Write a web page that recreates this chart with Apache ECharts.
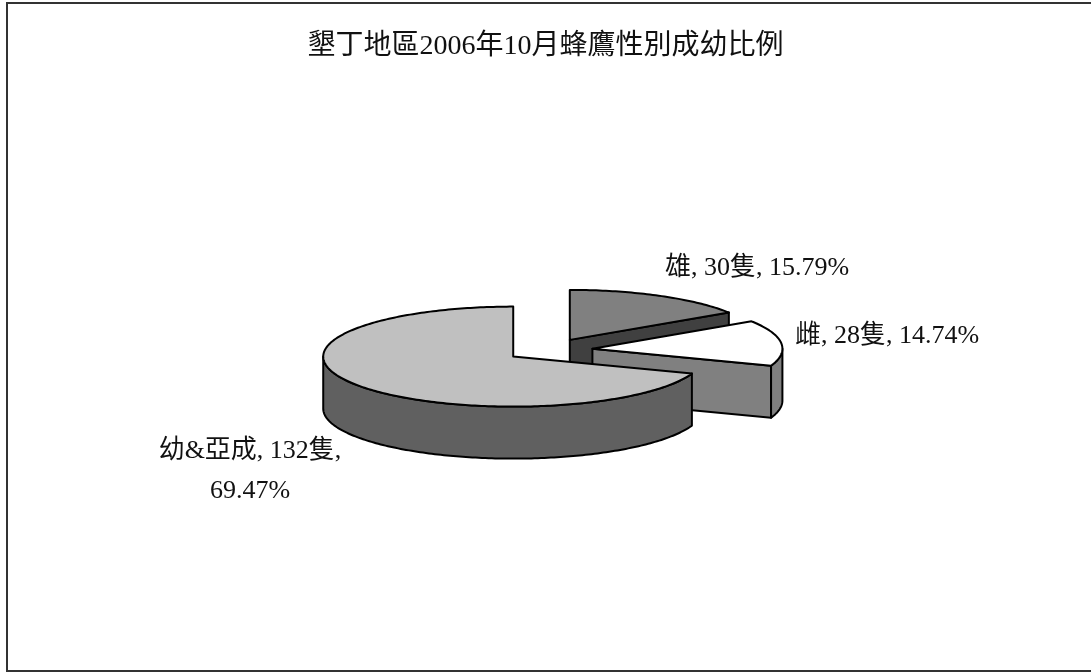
<!DOCTYPE html>
<html>
<head>
<meta charset="utf-8">
<title>墾丁地區2006年10月蜂鷹性別成幼比例</title>
<script src="https://cdn.jsdelivr.net/npm/echarts@6/dist/echarts.min.js"></script>
<style>
  html, body { margin: 0; padding: 0; background: #fff; }
  #chart { width: 1091px; height: 672px; }
</style>
</head>
<body>
<div id="chart"></div>
<script>
// Honey buzzard counts at Kenting, October 2006, by sex / age class
const titleText = '墾丁地區2006年10月蜂鷹性別成幼比例';
const categories = ['雄', '雌', '幼&亞成'];
const counts = [30, 28, 132];
const unitText = '隻';

// Colours for each slice: top face and side walls
const topColors = ['#808080', '#ffffff', '#c0c0c0'];
const sideColors = ['#404040', '#808080', '#606060'];

// Geometry of the tilted pie (pixels)
const CX = 549, CY = 350;     // centre of the top face before explosion
const RX = 190, RY = 50;      // ellipse radii of the top face
const DEPTH = 52;             // thickness of the pie
const EXPLODE = 0.23;         // slice offset as a fraction of the radius

// Label anchors (centre of the text block) for each slice
const labelAnchors = [[757, 268], [887, 336], [250, 471]];

const FONT_FAMILY = '"Liberation Serif", "Noto Sans CJK TC", serif';
const total = counts.reduce((a, b) => a + b, 0);

function sliceAngles(i) {
  let before = 0;
  for (let k = 0; k < i; k++) before += counts[k];
  // angles measured clockwise from 12 o'clock
  return [before / total * Math.PI * 2, (before + counts[i]) / total * Math.PI * 2];
}

function arcPoints(cx, cy, from, to, dz) {
  const pts = [];
  const n = Math.max(2, Math.ceil(Math.abs(to - from) / (Math.PI / 180)));
  for (let s = 0; s <= n; s++) {
    const a = from + (to - from) * s / n;
    pts.push([cx + RX * Math.sin(a), cy - RY * Math.cos(a) + dz]);
  }
  return pts;
}

function poly(points, fill) {
  return {
    type: 'polygon',
    shape: { points: points },
    style: { fill: fill, stroke: '#000', lineWidth: 2, lineJoin: 'round' }
  };
}

function renderItem(params, api) {
  const i = params.dataIndex;
  const [a0, a1] = sliceAngles(i);
  const mid = (a0 + a1) / 2;
  const cx = CX + EXPLODE * RX * Math.sin(mid);
  const cy = CY - EXPLODE * RY * Math.cos(mid);
  const children = [];
  const sideColor = sideColors[i];

  // Cut faces along the two straight edges, drawn when they face the viewer
  const edgeFace = (a) => {
    const rimTop = [cx + RX * Math.sin(a), cy - RY * Math.cos(a)];
    return poly([[cx, cy], rimTop, [rimTop[0], rimTop[1] + DEPTH], [cx, cy + DEPTH]], sideColor);
  };
  if (Math.cos(a0 - Math.PI / 2) < -1e-6) children.push(edgeFace(a0));
  if (Math.cos(a1 + Math.PI / 2) < -1e-6) children.push(edgeFace(a1));

  // Outer rim: only the front half of the ellipse is visible
  const r0 = Math.max(a0, Math.PI / 2), r1 = Math.min(a1, Math.PI * 1.5);
  if (r1 > r0) {
    const top = arcPoints(cx, cy, r0, r1, 0);
    const bottom = arcPoints(cx, cy, r0, r1, DEPTH).reverse();
    children.push(poly(top.concat(bottom), sideColor));
  }

  // Top face
  children.push(poly([[cx, cy]].concat(arcPoints(cx, cy, a0, a1, 0)), topColors[i]));

  // Data label: name, count and share
  const pct = (counts[i] / total * 100).toFixed(2) + '%';
  const head = categories[i] + ', ' + counts[i] + unitText + ',';
  const text = i === 2 ? head + '\n' + pct : head + ' ' + pct;
  children.push({
    type: 'text',
    style: {
      text: text,
      x: labelAnchors[i][0],
      y: labelAnchors[i][1],
      align: 'center',
      verticalAlign: 'middle',
      fill: '#111',
      fontSize: 26,
      fontFamily: FONT_FAMILY,
      lineHeight: 40
    }
  });

  return { type: 'group', children: children };
}

const chart = echarts.init(document.getElementById('chart'), null, { renderer: 'canvas' });
chart.setOption({
  backgroundColor: '#fff',
  animation: false,
  title: {
    text: titleText,
    left: 'center',
    top: 33,
    padding: 0,
    textStyle: {
      color: '#111',
      fontSize: 28,
      fontWeight: 'normal',
      fontFamily: FONT_FAMILY
    }
  },
  graphic: [{
    type: 'rect',
    shape: { x: 7, y: 3, width: 1100, height: 668 },
    style: { fill: 'none', stroke: '#333', lineWidth: 2 },
    silent: true
  }],
  series: [{
    type: 'custom',
    coordinateSystem: 'none',
    data: counts,
    renderItem: renderItem
  }]
});
</script>
</body>
</html>
